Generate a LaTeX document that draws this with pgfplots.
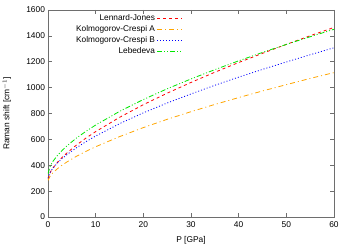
\documentclass[border=0pt]{standalone}
\usepackage{fontspec}
\setmainfont{Liberation Sans}
\usepackage{pgfplots}
\pgfplotsset{compat=1.18}
\definecolor{frame}{RGB}{110,110,110}
\definecolor{gporange}{RGB}{255,165,0}
\definecolor{gpgreen}{RGB}{0,230,0}
\begin{document}
\fontsize{8.4}{10}\selectfont
\begin{tikzpicture}
\useasboundingbox (-48pt,-28pt) rectangle (302pt,217pt);
\begin{axis}[
  at={(0,0)}, anchor=south west,
  scale only axis, width=286pt, height=207pt,
  xmin=0, xmax=60, ymin=0, ymax=1600,
  xtick={0,10,...,60}, ytick={0,200,...,1600},
  tick align=inside, major tick length=4pt,
  axis line style={frame, line width=0.8pt},
  every tick/.style={frame, line width=0.6pt},
  tick label style={font=\fontsize{8.4}{10}\selectfont},
  xticklabel style={yshift=-2pt},
  /pgf/number format/assume math mode=true,
  /pgf/number format/1000 sep={},
  xlabel={P [GPa]}, ylabel={Raman shift [cm$^{-1}$]},
  label style={font=\fontsize{8.4}{10}\selectfont},
  xlabel style={at={(axis description cs:0.5,-0.1111)}, anchor=center},
  ylabel style={at={(axis description cs:-0.1434,0.5)}, anchor=center},
  legend style={draw=none, fill=none, at={(0.4755,0.993)}, anchor=north east,
    font=\fontsize{8.3}{9}\selectfont, row sep=-0.2pt, inner sep=1pt},
  legend cell align=right,
  legend plot pos=right,
  legend image code/.code={\draw[#1] (0pt,0pt) -- (25pt,0pt);},
]
\addplot[red, line width=0.8pt, dash pattern=on 3pt off 3pt] coordinates {
(0,295) (0.5,347) (1,377) (2,423) (3,462) (4,496) (6,557) (8,611) (10,660) (15,770) (20,868) (25,957) (30,1040) (35,1119) (40,1194) (45,1265) (50,1334) (55,1401) (60,1465)};
\addlegendentry{Lennard-Jones}
\addplot[gporange, line width=0.8pt, dash pattern=on 5pt off 3pt on 1pt off 3pt] coordinates {
(0,283) (0.5,320) (1,341) (2,374) (3,402) (4,426) (6,470) (8,508) (10,543) (15,621) (20,691) (25,755) (30,814) (35,870) (40,923) (45,974) (50,1023) (55,1071) (60,1116)};
\addlegendentry{Kolmogorov-Crespi A}
\addplot[blue, line width=0.8pt, dash pattern=on 1pt off 2pt] coordinates {
(0,300) (0.5,349) (1,376) (2,418) (3,453) (4,483) (6,536) (8,583) (10,626) (15,721) (20,805) (25,881) (30,951) (35,1018) (40,1081) (45,1141) (50,1198) (55,1254) (60,1308)};
\addlegendentry{Kolmogorov-Crespi B}
\addplot[gpgreen, line width=0.8pt, dash pattern=on 5pt off 2pt on 1pt off 2pt on 1pt off 2pt] coordinates {
(0,335) (0.5,396) (1,428) (2,477) (3,516) (4,551) (6,611) (8,663) (10,711) (15,816) (20,908) (25,991) (30,1067) (35,1139) (40,1207) (45,1272) (50,1334) (55,1393) (60,1451)};
\addlegendentry{Lebedeva}
\end{axis}
\end{tikzpicture}
\end{document}
